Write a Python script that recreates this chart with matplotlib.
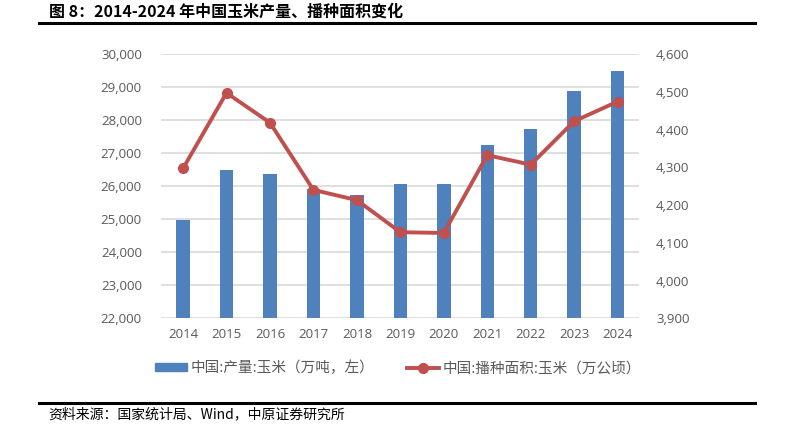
import matplotlib
matplotlib.use("Agg")
import matplotlib.pyplot as plt
from matplotlib.lines import Line2D
from matplotlib.patches import Patch
from matplotlib.ticker import FuncFormatter

years = ["2014", "2015", "2016", "2017", "2018", "2019", "2020", "2021", "2022", "2023", "2024"]
output = [24976, 26499, 26361, 25907, 25717, 26078, 26067, 27255, 27720, 28884, 29492]
area = [4297, 4497, 4418, 4240, 4213, 4128, 4126, 4332, 4307, 4422, 4474]

title = "图 8：2014-2024 年中国玉米产量、播种面积变化"
bar_label = "中国:产量:玉米（万吨，左）"
line_label = "中国:播种面积:玉米（万公顷）"
source = "资料来源：国家统计局、Wind，中原证券研究所"

plt.rcParams["font.family"] = ["Noto Sans CJK SC", "DejaVu Sans"]

bar_color = "#4f81bd"
line_color = "#c0504d"
grey = "#595959"

fig = plt.figure(figsize=(7.85, 4.34), dpi=100)
ax = fig.add_axes([0.2055, 0.2666, 0.609, 0.6090])
ax2 = ax.twinx()

x = list(range(len(years)))
ax.bar(x, output, width=0.31, color=bar_color, zorder=2)
ax.set_ylim(22000, 30000)
ax.set_yticks(range(22000, 30001, 1000))
ax.yaxis.set_major_formatter(FuncFormatter(lambda v, p: f"{int(v):,}"))
ax.set_xlim(-0.5, len(years) - 0.5)
ax.set_xticks(x)
ax.set_xticklabels(years)
ax.grid(axis="y", color="#d9d9d9", linewidth=1.2, zorder=0)
ax.set_axisbelow(True)

ax2.plot(x, area, color=line_color, linewidth=2.8, marker="o", markersize=7, zorder=3)
ax2.set_ylim(3900, 4600)
ax2.set_yticks(range(3900, 4601, 100))
ax2.yaxis.set_major_formatter(FuncFormatter(lambda v, p: f"{int(v):,}"))

for a in (ax, ax2):
    for s in a.spines.values():
        s.set_visible(False)
    a.tick_params(length=0, colors=grey, labelsize=9.5)
    for lab in a.get_yticklabels() + a.get_xticklabels():
        lab.set_fontfamily(["Open Sans", "DejaVu Sans"])
ax.tick_params(axis="y", pad=14)
ax2.tick_params(axis="y", pad=12)
ax.tick_params(axis="x", pad=7)

handles = [Patch(color=bar_color),
           Line2D([0], [0], color=line_color, linewidth=2.8, marker="o", markersize=7)]
fig.legend(handles, [bar_label, line_label], loc="center", bbox_to_anchor=(0.507, 0.152),
           ncol=2, frameon=False, fontsize=10.5, labelcolor=grey, handlelength=2.2,
           handleheight=0.5, columnspacing=2.2, handletextpad=0.25)

fig.text(0.063, 0.972, title, fontsize=11.5, fontweight="bold", va="center", ha="left")
fig.add_artist(Line2D([0.05, 0.962], [0.946, 0.946], color="black", linewidth=2.2))
fig.add_artist(Line2D([0.05, 0.962], [0.071, 0.071], color="black", linewidth=2.2))
fig.text(0.062, 0.046, source, fontsize=10, va="center", ha="left")

fig.savefig("out.png", dpi=100)
